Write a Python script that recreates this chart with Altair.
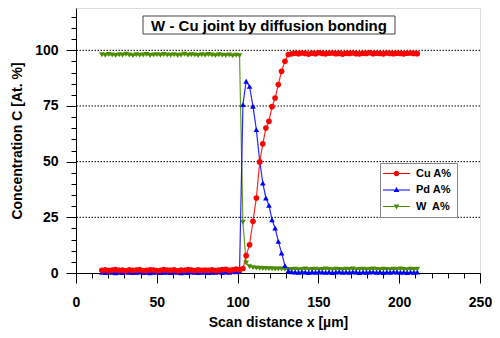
import altair as alt
import pandas as pd

FONT = "Liberation Sans"

# scan positions (µm)
x_scan = [16.0, 18.1, 20.3, 22.4, 24.5, 26.7, 28.8, 30.9, 33.0, 35.2, 37.3, 39.4, 41.6, 43.7,
          45.8, 48.0, 50.1, 52.2, 54.3, 56.5, 58.6, 60.7, 62.9, 65.0, 67.1, 69.3, 71.4, 73.5,
          75.6, 77.8, 79.9, 82.0, 84.2, 86.3, 88.4, 90.5, 92.7, 94.8, 96.9, 99.1, 101.2,
          103.3, 105.3, 107.4, 109.5, 111.6, 113.7, 115.6, 117.5, 119.4, 121.3, 123.2, 125.2,
          127.2, 129.3, 131.4,
          133.5, 135.6, 137.7, 139.8, 141.9, 144.0, 146.1, 148.2, 150.3, 152.4, 154.5, 156.6,
          158.7, 160.8, 162.9, 165.0, 167.1, 169.2, 171.3, 173.4, 175.5, 177.6, 179.7, 181.8,
          183.9, 186.0, 188.1, 190.2, 192.3, 194.4, 196.5, 198.6, 200.7, 202.8, 204.9, 207.0,
          209.1, 211.2]

cu = [1.2, 1.4, 1.1, 1.3, 1.5, 1.2, 1.3, 1.0, 1.4, 1.2, 1.3, 1.5, 1.1, 1.2, 1.4, 1.3, 1.1,
      1.2, 1.5, 1.3, 1.2, 1.4, 1.0, 1.3, 1.2, 1.5, 1.3, 1.1, 1.4, 1.2, 1.3, 1.2, 1.4, 1.1,
      1.3, 1.5, 1.6, 1.2, 1.4, 1.8, 1.5,
      2.0, 7.8, 12.7, 23.2, 33.7, 49.9, 58.0, 65.1, 68.1, 74.7, 78.6, 84.6, 90.6, 95.1, 98.1,
      98.4, 98.7, 98.5, 98.8, 98.6, 98.3, 98.7, 98.5, 98.9, 98.6, 98.4, 98.7, 98.8, 98.5,
      98.6, 98.3, 98.7, 98.6, 98.8, 98.5, 98.4, 98.7, 98.6, 98.9, 98.5, 98.7, 98.6, 98.4,
      98.8, 98.6, 98.5, 98.7, 98.6, 98.4, 98.7, 98.8, 98.6, 98.5]

pd_vals = [0.3, 0.2, 0.4, 0.3, 0.1, 0.3, 0.2, 0.4, 0.3, 0.2, 0.3, 0.4, 0.2, 0.3, 0.1, 0.3,
           0.4, 0.2, 0.3, 0.3, 0.2, 0.4, 0.3, 0.1, 0.3, 0.2, 0.4, 0.3, 0.2, 0.3, 0.4, 0.2,
           0.3, 0.3, 0.5, 0.2, 0.4, 0.3, 0.6, 0.5, 0.8,
           75.6, 86.1, 83.8, 74.9, 64.4, 50.2, 40.4, 33.7, 30.4, 23.9, 20.2, 14.2, 9.0, 3.3, 1.0,
           0.5, 0.4, 0.3, 0.5, 0.4, 0.2, 0.4, 0.3, 0.5, 0.4, 0.3, 0.4, 0.2, 0.4, 0.5, 0.3,
           0.4, 0.3, 0.5, 0.4, 0.2, 0.4, 0.3, 0.4, 0.5, 0.3, 0.4, 0.2, 0.4, 0.3, 0.5, 0.4,
           0.3, 0.4, 0.2, 0.4, 0.3, 0.4]

w = [98.0, 97.8, 98.1, 97.9, 97.7, 98.0, 97.8, 98.2, 97.9, 97.6, 98.0, 97.8, 97.9, 98.1,
     97.7, 97.9, 98.0, 97.8, 98.1, 97.9, 97.8, 98.0, 97.7, 97.9, 98.2, 97.8, 98.0, 97.9,
     97.7, 98.0, 97.8, 98.1, 97.9, 97.6, 98.0, 97.8, 97.7, 97.9, 97.5, 97.8, 97.6,
     22.8, 4.5, 2.8, 2.4, 2.2, 2.1, 2.0, 2.0, 1.9, 1.9, 1.8, 1.8, 1.8, 1.7, 1.6,
     1.6, 1.7, 1.5, 1.6, 1.8, 1.5, 1.6, 1.7, 1.5, 1.6, 1.8, 1.6, 1.5, 1.7, 1.6, 1.5,
     1.7, 1.6, 1.8, 1.5, 1.6, 1.7, 1.5, 1.6, 1.8, 1.6, 1.5, 1.7, 1.6, 1.5, 1.7, 1.6,
     1.8, 1.6, 1.5, 1.7, 1.6, 1.7]

series_names = ["Cu A%", "Pd A%", "W\u00a0 A%"]
series_colors = ["#ff0000", "#0000ff", "#4c8c00"]
series_shapes = ["circle", "triangle-up", "triangle-down"]
legend_shapes = [
    "M-2.45,-0.11L2.45,-0.11L2.45,0.11L-2.45,0.11Z"
    "M-0.5,0A0.5,0.5,0,1,1,0.5,0A0.5,0.5,0,1,1,-0.5,0Z",
    "M-2.45,-0.11L2.45,-0.11L2.45,0.11L-2.45,0.11Z"
    "M0,-0.55L0.52,0.38L-0.52,0.38Z",
    "M-2.45,-0.11L2.45,-0.11L2.45,0.11L-2.45,0.11Z"
    "M-0.52,-0.38L0.52,-0.38L0,0.55Z",
]

x_major = [0, 50, 100, 150, 200, 250]
x_minor = [0, 10, 20, 30, 40, 50, 60, 70, 80, 90, 100, 110, 120, 130, 140, 150, 160, 170,
           180, 190, 200, 210, 220, 230, 240, 250]
y_major = [0, 25, 50, 75, 100]
y_minor = [0, 5, 10, 15, 20, 25, 30, 35, 40, 45, 50, 55, 60, 65, 70, 75, 80, 85, 90, 95,
           100, 105, 110, 115]
grid_vals = [25, 50, 75, 100]
title_text = "W - Cu joint by diffusion bonding"

rows = []
for name, vals in [(series_names[2], w), (series_names[1], pd_vals), (series_names[0], cu)]:
    for xv, v in zip(x_scan, vals):
        rows.append({"series": name, "x": xv, "value": v})
df = pd.DataFrame(rows)

xs = alt.Scale(domain=[0, 250], nice=False, zero=False)
ys = alt.Scale(domain=[0, 119], nice=False, zero=False)
cscale = alt.Scale(domain=series_names, range=series_colors)

lab = dict(labelFont=FONT, labelFontSize=14, labelFontWeight="bold", labelColor="black",
           titleFont=FONT, titleFontSize=14, titleFontWeight="bold", titleColor="black",
           tickColor="black", domainColor="black", tickWidth=1, domainWidth=1, grid=False)

x_major_axis = alt.Axis(values=x_major, orient="bottom", title="Scan distance x [µm]",
                        tickSize=10, labelPadding=12, titlePadding=6, format="d",
                        labelFlush=False, **lab)
y_major_axis = alt.Axis(values=y_major, orient="left", title="Concentration C [At. %]",
                        tickSize=10, labelPadding=8, titlePadding=10, format="d",
                        labelFlush=False, **lab)
x_minor_axis = alt.Axis(values=x_minor, orient="bottom", title=None, tickSize=5,
                        labels=False, domain=False, grid=False, tickColor="black", tickWidth=1)
y_minor_axis = alt.Axis(values=y_minor, orient="left", title=None, tickSize=5,
                        labels=False, domain=False, grid=False, tickColor="black", tickWidth=1)

grid_df = pd.DataFrame({"g": grid_vals})
grid = alt.Chart(grid_df).mark_rule(color="black", strokeWidth=1, strokeDash=[1.5, 1.5]).encode(
    y=alt.Y("g:Q", scale=ys, axis=y_minor_axis)
)

lines = alt.Chart(df).mark_line(strokeWidth=1.2, opacity=0.85).encode(
    x=alt.X("x:Q", scale=xs, axis=x_major_axis),
    y=alt.Y("value:Q", scale=ys, axis=y_major_axis),
    color=alt.Color("series:N", scale=cscale, legend=None),
    detail="series:N",
)

points = alt.Chart(df).mark_point(filled=True, size=32, opacity=1).encode(
    x=alt.X("x:Q", scale=xs, axis=x_minor_axis),
    y=alt.Y("value:Q", scale=ys, axis=None),
    color=alt.Color("series:N", scale=cscale, legend=None),
    shape=alt.Shape("series:N", scale=alt.Scale(domain=series_names, range=series_shapes),
                    legend=None),
)

leg = alt.Legend(title=None, orient="none", legendX=304, legendY=155, padding=5,
                 strokeColor="#888888", fillColor="white", labelFont=FONT, labelFontSize=11,
                 labelFontWeight="bold", labelColor="black", symbolSize=121,
                 symbolStrokeWidth=0, symbolOffset=6, labelOffset=14, rowPadding=4.5,
                 symbolOpacity=1, cornerRadius=0)

legend_layer = alt.Chart(df).mark_point(filled=True, size=121, opacity=0).encode(
    x=alt.X("x:Q", scale=xs, axis=None),
    y=alt.Y("value:Q", scale=ys, axis=None),
    color=alt.Color("series:N", scale=alt.Scale(domain=series_names, range=series_colors),
                    legend=leg),
    shape=alt.Shape("series:N", scale=alt.Scale(domain=series_names, range=legend_shapes),
                    legend=leg),
)

title_df = pd.DataFrame({"t": [title_text]})
title_box = alt.Chart(title_df).mark_rect(fill="white", stroke="#444444", strokeWidth=1).encode(
    x=alt.value(67), x2=alt.value(319), y=alt.value(8), y2=alt.value(26)
)
title_txt = alt.Chart(title_df).mark_text(font=FONT, fontSize=15, fontWeight="bold",
                                          color="black", align="center",
                                          baseline="middle").encode(
    text="t:N", x=alt.value(193), y=alt.value(17.5)
)

chart = alt.layer(grid, lines, points, legend_layer, title_box, title_txt).resolve_scale(
    color="independent", shape="independent"
).resolve_axis(
    x="independent", y="independent"
).properties(
    width=404, height=265,
    autosize=alt.AutoSizeParams(type="none"),
    padding={"left": 68, "top": 0, "right": 12, "bottom": 57},
    background="white",
).configure_view(stroke="black", strokeWidth=1).configure(font=FONT)

chart.save("out.html", embed_options={"renderer": "svg", "actions": False})
